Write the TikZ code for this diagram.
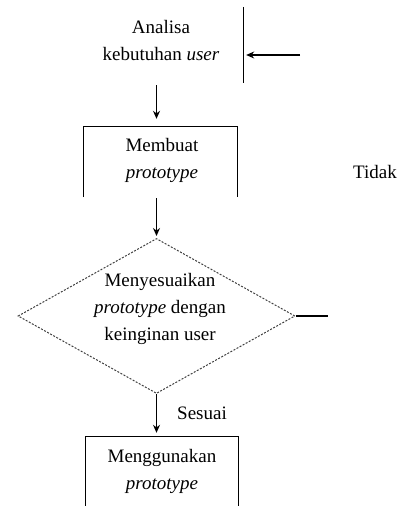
\documentclass[tikz,border=0pt]{standalone}
\usepackage{fontspec}
\setmainfont{Liberation Serif}
\usetikzlibrary{shapes.geometric,arrows.meta}
\begin{document}
\begin{tikzpicture}[x=1pt,y=-1pt,
  lbl/.style={font=\fontsize{19}{27}\selectfont, align=center, inner sep=0pt, text=black},
  boxarea/.style={rectangle, inner sep=0pt},
  ln/.style={line width=1.1pt, draw=black},
  arr/.style={ln, -{Stealth[length=8pt,width=7pt]}},
  decision/.style={draw=black!75, dash pattern=on 2pt off 1.5pt, line width=1pt, shape=diamond, minimum width=277pt, minimum height=155pt, inner sep=0pt}
]
\useasboundingbox (0,0) rectangle (401,506);
\coordinate (bot) at (0,506);
% box areas (cropped boxes)
\node[boxarea, minimum width=162pt, minimum height=76pt] (abox) at (162,45) {};
\node[boxarea, minimum width=153pt, minimum height=70pt] (mbox) at (160.5,162) {};
\node[boxarea, minimum width=152pt, minimum height=76pt] (ubox) at (162,475) {};
\node[decision] (dec) at (156.5,316) {};
% texts
\node[lbl] (ta) at (161,41) {Analisa\\kebutuhan \textit{user}};
\node[lbl] (tm) at (162,160) {Membuat\\\textit{prototype}};
\node[lbl] (td) at (160,309) {Menyesuaikan\\\textit{prototype} dengan\\keinginan user};
\node[lbl] (tu) at (162,471) {Menggunakan\\\textit{prototype}};
\node[lbl, anchor=west] (tidak) at (353,172) {Tidak};
\node[lbl, anchor=west] (sesuai) at (177,413) {Sesuai};
\coordinate (fbstart) at (300,55);
\coordinate (noend) at (328,0);
% partial box outlines
\draw[ln] (abox.north east) -- (abox.south east);
\draw[ln] (mbox.south west) -- (mbox.north west) -- (mbox.north east) -- (mbox.south east);
\draw[ln] (ubox.west |- bot) -- (ubox.north west) -- (ubox.north east) -- (ubox.east |- bot);
% connectors
\draw[arr, shorten >=3pt] (fbstart) -- (fbstart -| abox.east);
\draw[arr, shorten <=2pt, shorten >=8pt] (abox.south -| dec.north) -- (mbox.north -| dec.north);
\draw[arr, shorten <=1pt, shorten >=2pt] (mbox.south -| dec.north) -- (dec.north);
\draw[arr, shorten >=4pt] (dec.south) -- (ubox.north -| dec.south);
\draw[ln] (dec.east) -- (dec.east -| noend);
\end{tikzpicture}
\end{document}
